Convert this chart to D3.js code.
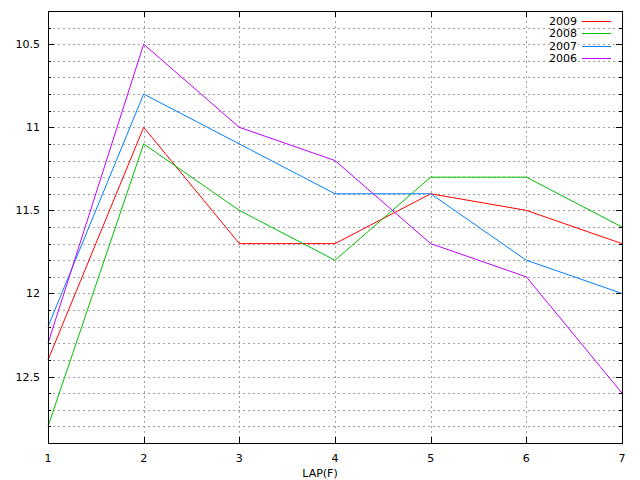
<!DOCTYPE html>
<html>
<head>
<meta charset="utf-8">
<script src="https://cdn.jsdelivr.net/npm/d3@7"></script>
<style>
  body { margin: 0; background: #fff; }
  text { font-family: "DejaVu Sans", sans-serif; font-size: 11px; fill: #000; }
</style>
</head>
<body>
<svg id="svg" width="640" height="480"></svg>
<script>
// laps and lap times per year
const laps = [1, 2, 3, 4, 5, 6, 7];
const years = ["2009", "2008", "2007", "2006"];
const times2009 = [12.4, 11.0, 11.7, 11.7, 11.4, 11.5, 11.7];
const times2008 = [12.8, 11.1, 11.5, 11.8, 11.3, 11.3, 11.6];
const times2007 = [12.2, 10.8, 11.1, 11.4, 11.4, 11.8, 12.0];
const times2006 = [12.3, 10.5, 11.0, 11.2, 11.7, 11.9, 12.6];
const yTickLabels = [10.5, 11, 11.5, 12, 12.5];

const colors = ["#ff0000", "#00c000", "#0080ff", "#c000ff"];
const series = [times2009, times2008, times2007, times2006];

const svg = d3.select("#svg");
const margin = { left: 48, right: 18, top: 11, bottom: 37 };
const width = 640 - margin.left - margin.right;
const height = 480 - margin.top - margin.bottom;

const x = d3.scaleLinear().domain([1, 7]).range([0, width]);
const y = d3.scaleLinear().domain([10.3, 12.9]).range([0, height]);

const g = svg.append("g").attr("transform", `translate(${margin.left},${margin.top})`);

// minor steps every 0.1
const yMinor = d3.range(10.4, 12.85, 0.1).map(v => Math.round(v * 10) / 10);

// grid
g.append("g").selectAll("line.h")
    .data(yMinor)
    .join("line")
    .attr("x1", 0).attr("x2", width)
    .attr("y1", d => Math.round(y(d)) + 0.5).attr("y2", d => Math.round(y(d)) + 0.5)
    .attr("stroke", "#a0a0a0").attr("stroke-dasharray", "2,3");

g.append("g").selectAll("line.v")
    .data(laps.slice(1, -1))
    .join("line")
    .attr("y1", 0).attr("y2", height)
    .attr("x1", d => Math.round(x(d)) + 0.5).attr("x2", d => Math.round(x(d)) + 0.5)
    .attr("stroke", "#a0a0a0").attr("stroke-dasharray", "2,3");

// ticks on all four sides
const isMajor = v => yTickLabels.some(t => Math.abs(t - v) < 1e-6);
const ticks = g.append("g").attr("stroke", "#000");
yMinor.forEach(v => {
    const len = isMajor(v) ? 6 : 3;
    const yy = Math.round(y(v)) + 0.5;
    ticks.append("line").attr("x1", 0).attr("x2", len).attr("y1", yy).attr("y2", yy);
    ticks.append("line").attr("x1", width - len).attr("x2", width).attr("y1", yy).attr("y2", yy);
});
laps.forEach(v => {
    const xx = Math.round(x(v)) + 0.5;
    ticks.append("line").attr("x1", xx).attr("x2", xx).attr("y1", height).attr("y2", height - 6);
    ticks.append("line").attr("x1", xx).attr("x2", xx).attr("y1", 0).attr("y2", 6);
});

// tick labels
g.append("g").selectAll("text")
    .data(yTickLabels)
    .join("text")
    .attr("x", -8).attr("y", d => y(d) + 4)
    .attr("text-anchor", "end")
    .text(d => d);

g.append("g").selectAll("text")
    .data(laps)
    .join("text")
    .attr("x", d => x(d)).attr("y", height + 19)
    .attr("text-anchor", "middle")
    .text(d => d);

svg.append("text")
    .attr("x", 320).attr("y", 477)
    .attr("text-anchor", "middle")
    .text("LAP(F)");

// lines
const line = d3.line().x((d, i) => x(laps[i])).y(d => y(d));
series.forEach((s, i) => {
    g.append("path")
        .datum(s)
        .attr("d", line)
        .attr("fill", "none")
        .attr("stroke", colors[i])
        .attr("stroke-width", 1);
});

// frame
g.append("rect")
    .attr("x", 0.5).attr("y", 0.5)
    .attr("width", width).attr("height", height)
    .attr("fill", "none").attr("stroke", "#000");

// legend
const legend = svg.append("g");
years.forEach((yr, i) => {
    const ly = 21 + i * 12.3;
    legend.append("text")
        .attr("x", 577).attr("y", ly + 4)
        .attr("text-anchor", "end")
        .text(yr);
    legend.append("line")
        .attr("x1", 582).attr("x2", 611)
        .attr("y1", Math.round(ly) + 0.5).attr("y2", Math.round(ly) + 0.5)
        .attr("stroke", colors[i]);
});
</script>
</body>
</html>
